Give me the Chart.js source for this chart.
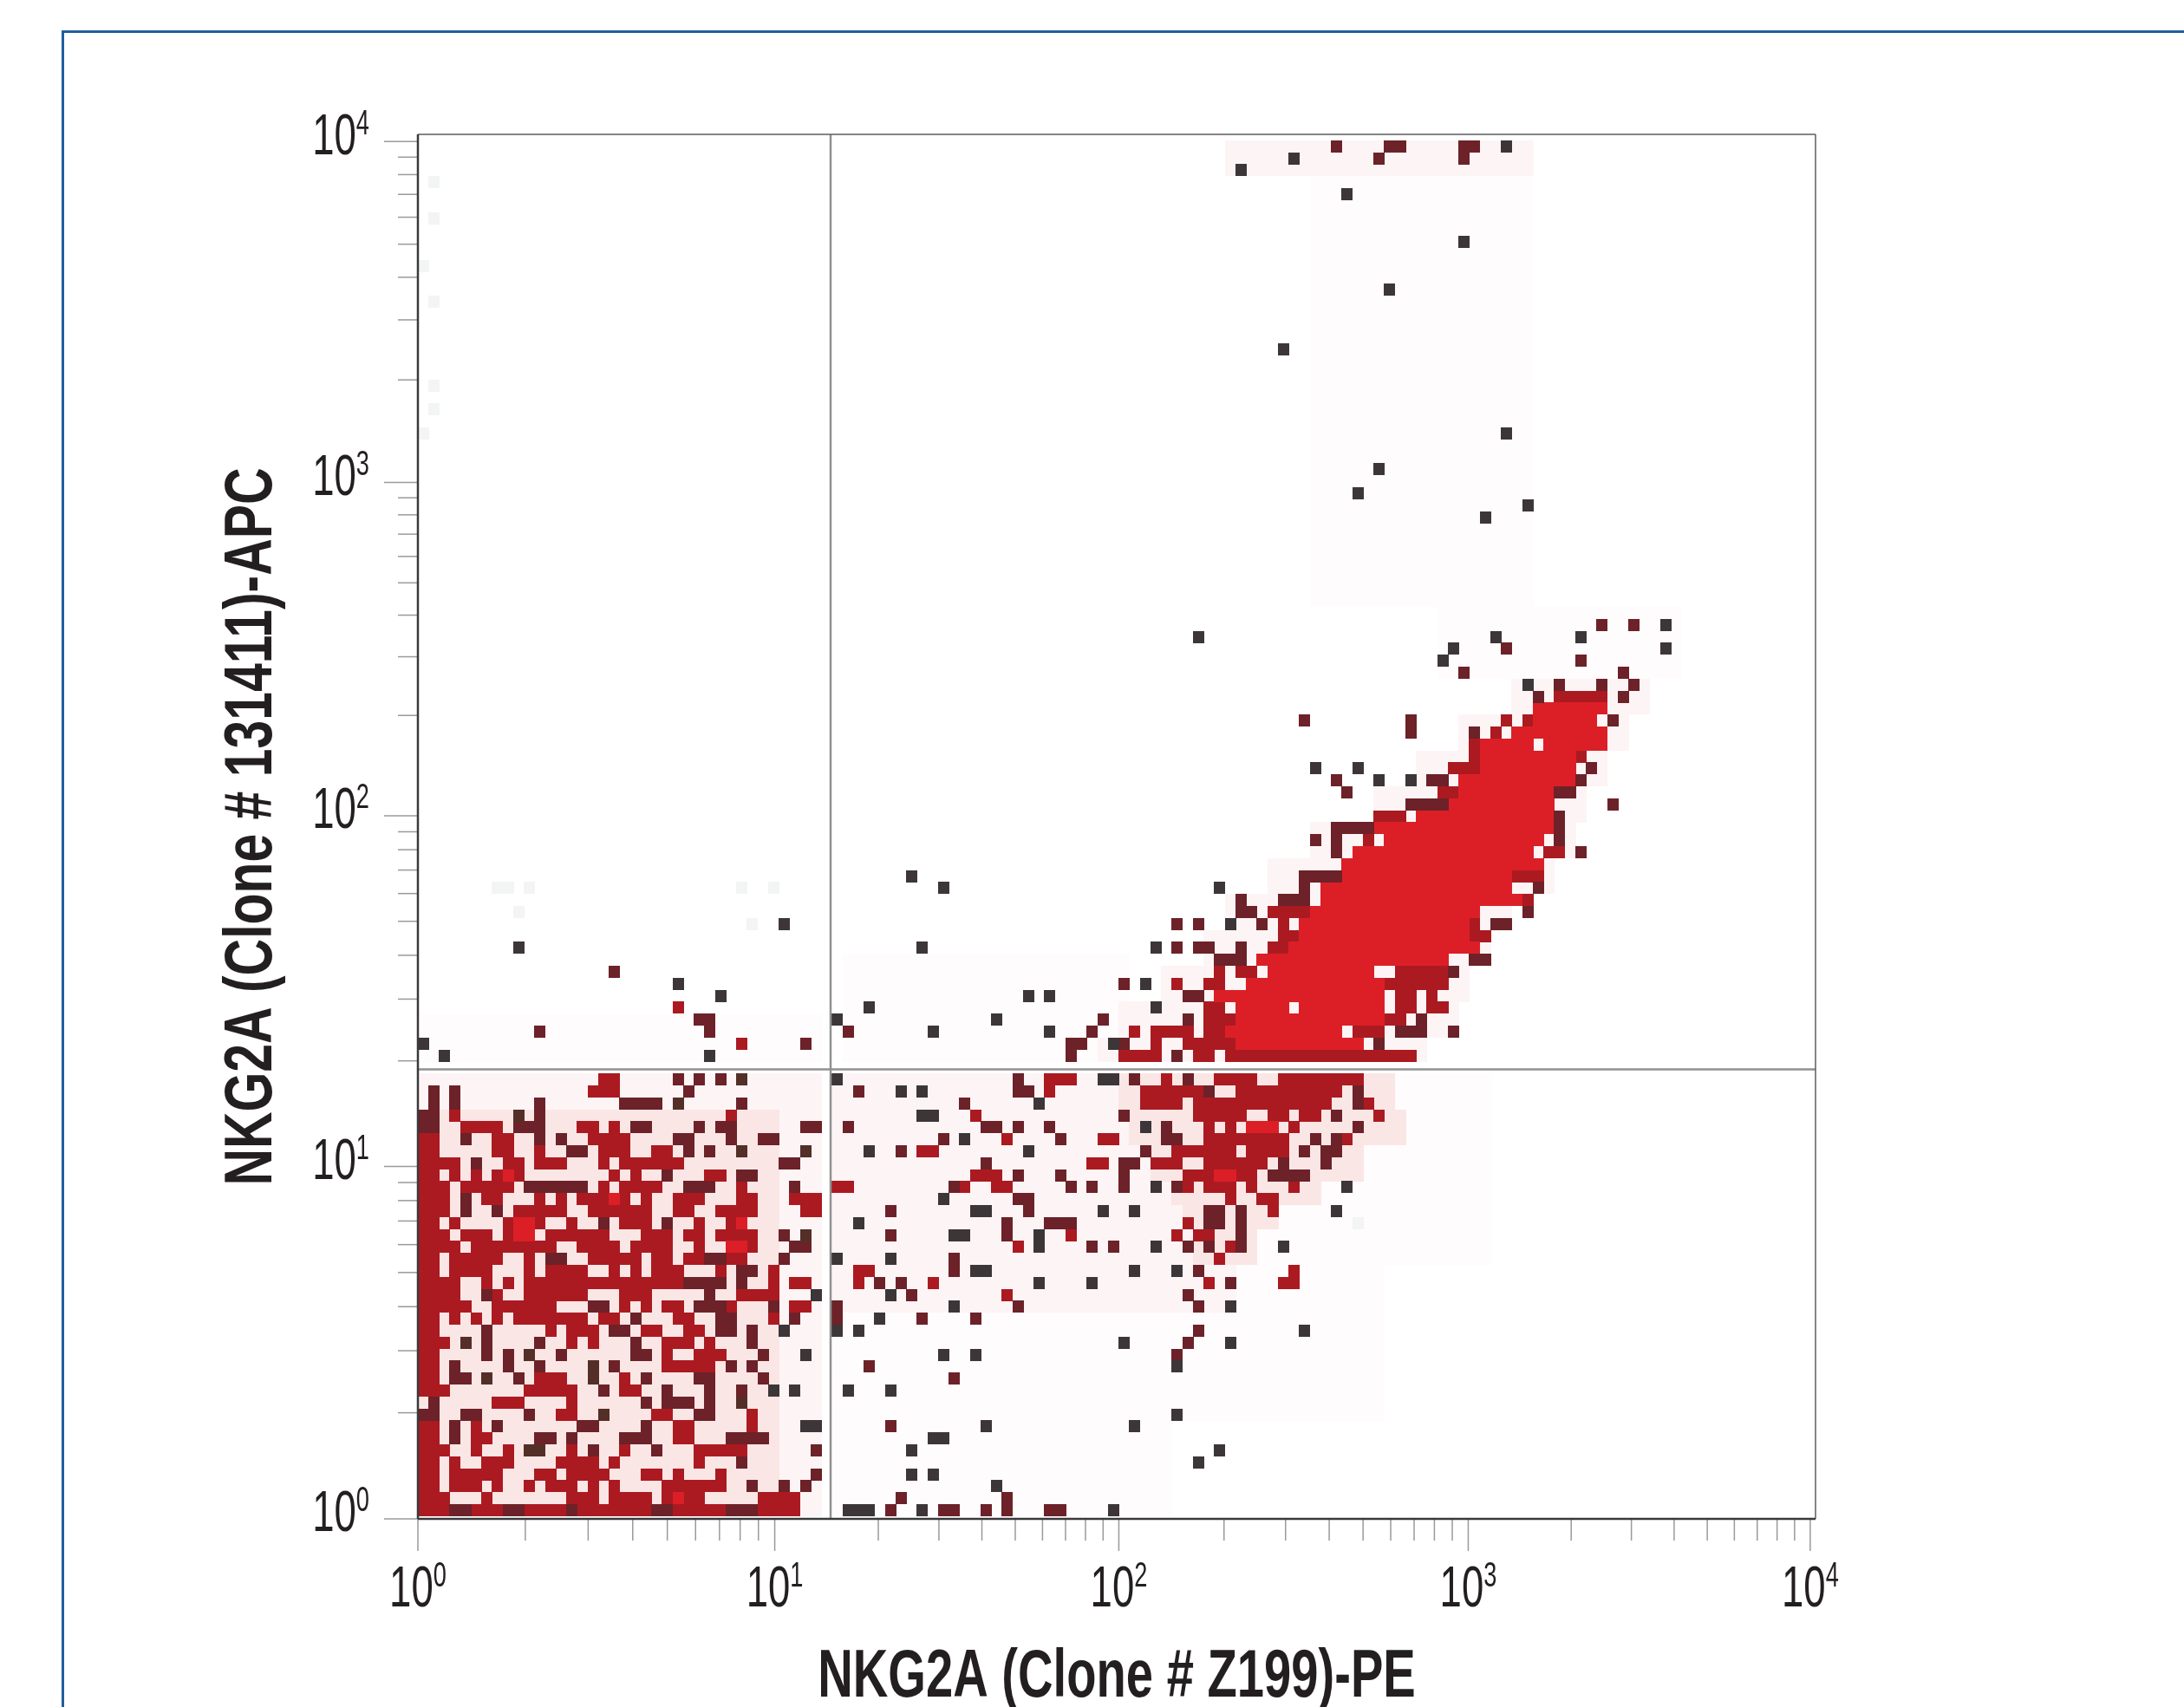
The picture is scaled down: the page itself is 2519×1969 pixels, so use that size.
<!DOCTYPE html>
<html lang="en">
<head>
  <meta charset="UTF-8" />
  <title>NKG2A flow plot</title>
  <script src="https://cdn.jsdelivr.net/npm/chart.js"></script>
  <style>
    html, body { margin: 0; background: #fff; overflow: hidden; }
    #page { position: relative; width: 2519px; height: 1969px; overflow: hidden; }
    #frame { position: absolute; left: 71px; top: 35px; width: 2600px; height: 2100px; border: 3px solid #1f5f9f; }
    canvas { position: absolute; left: 0; top: 0; }
  </style>
</head>
<body>
  <div id="page">
    <div id="frame"></div>
    <canvas id="plot" width="2519" height="1969"></canvas>
  </div>

  <script>
    // axes are in instrument channels: one channel = one cell of the density plot
    const xDecades = [0, 33.6, 66.0, 98.9, 131.1];
    const yDecades = [-0.22, 29.24, 58.55, 86.4, 114.9];
    const decadeLabels = ["10⁰", "10¹", "10²", "10³", "10⁴"];
    const xGate = 38.86;
    const yGate = 37.36;
    const xTitle = "NKG2A (Clone # Z199)-PE";
    const yTitle = "NKG2A (Clone # 131411)-APC";

    const levelColors = {
      f: "#fffcfd", a: "#fdf4f5", g: "#f3f4f4", p: "#fbe6e6",
      m: "#ab1a21", r: "#dc1f27", d: "#6c2228", n: "#532f28", k: "#3d3638"
    };
    const levelOrder = ["f", "a", "g", "p", "m", "r", "d", "n", "k"];

    // background haze: [col from, col to, row from, row to, level]
    const hazeBlocks = [
      [39, 70, 0, 16, "f"], [70, 90, 8, 20, "f"], [39, 76, 17, 36, "a"], [76, 100, 21, 36, "f"],
      [66, 91, 34, 36, "p"], [67, 92, 31, 33, "p"], [69, 88, 28, 30, "p"], [71, 84, 26, 27, "p"],
      [72, 80, 24, 25, "p"], [73, 78, 21, 23, "p"],
      [0, 37, 38, 41, "f"], [40, 66, 38, 46, "f"],
      [64, 94, 38, 39, "a"], [66, 97, 40, 42, "a"], [70, 98, 43, 45, "a"], [74, 100, 46, 48, "a"],
      [76, 102, 49, 51, "a"], [80, 106, 52, 54, "a"], [84, 108, 55, 57, "a"], [90, 109, 58, 60, "a"],
      [94, 111, 61, 63, "a"], [98, 113, 64, 66, "a"], [103, 115, 67, 69, "a"],
      [96, 118, 70, 75, "f"], [84, 104, 76, 111, "f"], [76, 104, 112, 114, "a"],
      [0, 37, 0, 33, "p"], [0, 37, 34, 36, "a"], [34, 37, 0, 36, "a"]
    ];

    // below the horizontal gate, left of the vertical gate (index = row from bottom)
    const lowerLeftRows = [
      "0-35m 3-4d 8-9d 14d 22-23d 29-31d",
      "0-2m 6m 14-16m 18-21m 23-25m 24r 26m 32-34m 35m",
      "0-1m 3-5m 7m 10m 12-14m 16m 18m 23-28m 31d 34d 36d",
      "0-1m 3-7m 11-12m 14-16m 17m 21-22m 24m 28m 37d",
      "0-1m 3m 6-8m 13-16m 18m 26m 30d",
      "0-2m 5m 8m 10-11n 14m 16d 19m 22d 26-30m 37d",
      "0-1m 3d 5-6m 11-12d 14d 19-21d 24-25m 29-32d",
      "0-1m 3d 5m 7d 15-16d 21d 24-25m 31m 36-37k",
      "0-1d 4-5d 10d 13-14m 17n 22-23m 26-27d 31m",
      "1d 7-9m 14m 21d 23-25d 27d 30n",
      "0-2m 10-14m 17d 19-20m 23d 27d 30d 33k 35k",
      "0-1m 3-4d 6n 9d 11-13m 16n 19m 21d 26-27d 32d",
      "0-1m 3d 8d 11d 16n 18d 23-26m 27m 29d 31d",
      "0-1m 6d 8d 10n 13d 20-21d 23m 26-28m 32d 36k",
      "0-2m 4n 6d 11d 14m 16m 20d 23-25m 27m 31d",
      "0-1m 6d 12m 14-16m 18-19d 21-22m 25-26m 28-29d 31d 34k",
      "0-1m 3m 5m 7m 9-15m 17-18m 20d 24-25m 28-29d 33m 35d",
      "0-4m 7-12m 16-17d 19m 21m 23-24m 26-28d 29m 33d 35-36m",
      "0-3m 6d 7m 10-15m 19-21m 27d 30-33m 37k",
      "0-3m 6m 8m 10-24m 25-28d 30d 33m 35-36m",
      "0-1m 3-6m 10m 12-15m 18m 20m 22-24m 28m 30-31d 33m",
      "0-1m 3-7m 10m 12-13d 16-20m 22-23m 25-26m 27-28d 29-30m 34d",
      "0-3m 5-12m 15-18m 20-23m 26m 29-31m 29-30r 35-36d",
      "0-2m 4-6m 8-10m 9-10r 12-17m 21-23m 25-26m 28m 29-31m 34d 36n",
      "0-1m 3m 8-11m 9-10r 14m 17d 19-21m 23d 26m 29-30m 30r",
      "0-2m 4d 7d 9-13m 16-21m 24-25m 28-31m 36-37m",
      "0-2m 4d 6-7m 11m 13m 15-19m 18r 21m 24-26m 30-31m 35-37m",
      "0-2m 4-8m 10-15d 17m 19-22m 25-27d 30m 35d",
      "0-1m 3m 5m 7-9m 8r 18m 20m 23d 27-28m 30-31d",
      "0-3m 5d 8-9m 11-13m 17m 19-24m 34-35d",
      "0-1m 7-8m 11m 14-15d 17-19m 22-23m 25d 27d 30n 36n",
      "0-1m 4d 7-8m 11d 13d 16-19m 24-25d 29d 32-33d",
      "0-1d 4-7m 9-11d 15-16m 18m 20-21d 26d 28-29d 36-37d",
      "0-1d 3m 9n 11d 29m",
      "1d 3d 11d 19-22d 24n 30d",
      "1d 3d 16-18m 25d",
      "17-18m 24d 26d 28d 30n"
    ];

    // below the horizontal gate, right of the vertical gate
    const lowerRightRows = [
      "40-42k 44d 47k 49-50d 53d 55d 59-60d 65k",
      "45d 55d",
      "54k",
      "46k 48k",
      "73k",
      "46k 75k",
      "48-49k",
      "44d 53k 67k",
      "71k",
      "",
      "40k 44k",
      "50d",
      "42d 71k",
      "49k 52k 71d",
      "66k 72d 76k",
      "39k 41k 73d 83k",
      "39d 43k 47d 52d",
      "39d 50k 56d 73d 76k",
      "44k 46d 55m 72d",
      "41m 43d 45d 48m 58k 63k 74m 76d 81-82m",
      "41-42m 50d 52-53k 67k 71k 73d 82m",
      "39k 44k 50d 75m",
      "56m 58k 63d 65d 69k 72d 74d 76m 77d 81k",
      "44d 50-51k 55d 58k 61m 71m 73-74m 77d",
      "41k 55d 59-61d 72m 74-75d 77d 88g",
      "44d 52-53k 57d 64k 67k 74-75d 77d 80m 86k",
      "49k 56-57d 76m 79-80m",
      "39-40m 50d 51m 54-55m 61d 63d 66d 69k 71d 72m 74-76m 78m 82m 87k",
      "52-54m 56d 60d 66d 72-78m 75-76r 80-83d",
      "53d 63-64m 66-67d 69-71m 74-79m 81d 85d",
      "42k 45d 47-48m 57k 68d 71-76m 78-81m 83d 85-86d",
      "49d 51k 55m 60d 64-65m 70-71d 74-81m 84d 86d 87m",
      "40d 53-54d 56d 59d 68k 70d 74m 76m 78-80r 82m 88d",
      "47-48k 52m 66d 73-77m 80-81m 83-84m 86d 90m",
      "51d 58k 68-71m 73-85m 88d 89m",
      "41d 45k 47k 56-57d 59m 68-73m 74d 77-86m 88d",
      "39k 56d 59-61m 64-65k 67d 70m 72d 75-78m 81-88m"
    ];

    // above the horizontal gate, index 0 = row 38
    const upperRows = [
      "2k 27k 61d 66-69m 71d 73-74m 76-93m",
      "0k 30m 36d 61-62d 65k 66d 69m 72-76m 77-88r 90d",
      "11d 27d 40d 48k 59k 63d 67m 69-72m 74-75m 76-86r 88-90m 92-94d 97d",
      "26-27d 39k 54k 64d 72d 74-76m 77-90r 91-92m 94d",
      "24m 42k 69k 74-75m 77-81r 83-90r 92-93m 95-96m",
      "28k 57k 59k 72-73d 75-90r 92-93m 95m",
      "24k 66d 68k 71m 74-75m 78-90r 91-96m",
      "18d 75m 77-78m 80-89r 92-96m 97d",
      "75-77d 79-96r 99-100d",
      "9k 47k 69k 71d 73-74d 77d 80-81m 82-99r",
      "81-82m 83-98r 99-100m",
      "34k 71d 73d 76k 79d 81m 83-98r 99m 101-102d",
      "77-78d 80-83m 84-99r 104d",
      "77d 81-83d 85-103r 104m",
      "30g 33g 49k 75k 83d 85-102r 105d",
      "46k 83-86d 87-102r 103-105m",
      "87-105r",
      "86d 88-104r 106-107m 109d",
      "84d 86d 89m 91-105r 107d",
      "86-89d 90-106r 107d",
      "90-92m 94-106r 107d",
      "93-96d 97-106r 112d",
      "87d 96-97m 98-106r 107-108d",
      "86d 90k 93k 95-96d 98-108r 109d",
      "84k 88k 97-99m 100-108r 110d",
      "99m 100-108r 109m",
      "99m 100-104r 106-111r",
      "93d 99d 101m 103-111r",
      "83d 93d 102m 104m 105-110r 112d",
      "105-111r",
      "105d 107-110m 111m 113d",
      "104k 107d 111d 114d",
      "98d 113d",
      "96k 109d",
      "97k 102d 117k",
      "73k 101k 109k",
      "111d 114d 117k"
    ];

    // isolated events high up the plot: [col, row, level]
    const topEvents = [
      [77, 112, "k"], [82, 113, "k"], [86, 114, "d"], [90, 113, "d"], [91, 114, "d"], [92, 114, "d"],
      [98, 113, "d"], [98, 114, "d"], [99, 114, "d"], [102, 114, "k"], [87, 110, "k"], [98, 106, "k"],
      [91, 102, "k"], [81, 97, "k"], [102, 90, "k"], [90, 87, "k"], [88, 85, "k"], [100, 83, "k"],
      [104, 84, "k"]
    ];
    // pale single cells along the left edge: [col, row]
    const faintEdge = [
      [1, 111], [1, 108], [1, 101], [1, 94], [1, 92], [0, 104], [0, 90],
      [9, 50], [10, 52], [7, 52], [8, 52], [31, 49]
    ];

    // collect the cells per level, later entries overwrite earlier ones
    const cells = new Map();
    function setCell(col, row, level) { cells.set(col + "," + row, level); }
    function readRows(rows, firstRow) {
      rows.forEach((text, i) => {
        for (const m of text.matchAll(/(\d+)(?:-(\d+))?([a-z])/g)) {
          const from = +m[1], to = m[2] ? +m[2] : from;
          for (let c = from; c <= to; c++) setCell(c, firstRow + i, m[3]);
        }
      });
    }
    hazeBlocks.forEach(([c0, c1, r0, r1, level]) => {
      for (let r = r0; r <= r1; r++) for (let c = c0; c <= c1; c++) setCell(c, r, level);
    });
    faintEdge.forEach(([c, r]) => setCell(c, r, "g"));
    readRows(lowerLeftRows, 0);
    readRows(lowerRightRows, 0);
    readRows(upperRows, 38);
    topEvents.forEach(([c, r, level]) => setCell(c, r, level));

    const cellData = {};
    levelOrder.forEach(l => cellData[l] = []);
    cells.forEach((level, key) => {
      const [c, r] = key.split(",").map(Number);
      cellData[level].push({ x: c + 0.5, y: r + 0.5 });
    });

    // a cell is taller than wide, so the point style is a small canvas
    function cellImage(color) {
      const img = document.createElement("canvas");
      img.width = 13;
      img.height = 14;
      const g = img.getContext("2d");
      g.fillStyle = color;
      g.fillRect(0, 0, 13, 14);
      return img;
    }

    const minorTicks = decades => {
      const out = [];
      for (let d = 0; d < decades.length - 1; d++) {
        for (let m = 2; m <= 9; m++) {
          out.push(decades[d] + Math.log10(m) * (decades[d + 1] - decades[d]));
        }
      }
      return out;
    };

    // no condensed font is installed, so text is squeezed along its own direction
    const textSqueeze = { [xTitle]: 0.72, [yTitle]: 0.755 };
    const fontFamily = "'Liberation Sans'";
    const narrowText = {
      id: "narrowText",
      beforeInit(chart) {
        const ctx = chart.ctx;
        const fill = ctx.fillText.bind(ctx);
        ctx.fillText = (text, x, y) => {
          const power = decadeLabels.indexOf(text);
          ctx.save();
          ctx.translate(x, y);
          ctx.scale(textSqueeze[text] || 0.68, 1);
          if (power < 0) {
            fill(text, 0, 0);
          } else {
            // "10" plus a raised exponent, the label centred or right aligned as a whole
            const exponentFont = "40px " + fontFamily;
            const baseWidth = ctx.measureText("10").width;
            const top = -ctx.measureText("10").actualBoundingBoxAscent;
            const base = ctx.font;
            ctx.font = exponentFont;
            const expWidth = ctx.measureText(String(power)).width;
            ctx.font = base;
            const total = baseWidth + expWidth;
            const start = ctx.textAlign === "right" ? -total : ctx.textAlign === "center" ? -total / 2 : 0;
            ctx.textAlign = "left";
            fill("10", start, 0);
            ctx.font = exponentFont;
            ctx.textBaseline = "alphabetic";
            fill(String(power), start + baseWidth, top + 24);
          }
          ctx.restore();
        };
      }
    };

    // outward tick marks of two lengths and the plot frame
    const flowAxes = {
      id: "flowAxes",
      afterDraw(chart) {
        const { ctx, chartArea: a, scales: { x, y } } = chart;
        ctx.save();
        ctx.strokeStyle = "#9a9a9c";
        ctx.lineWidth = 1.5;
        const mark = (px, py, qx, qy) => {
          ctx.beginPath(); ctx.moveTo(px, py); ctx.lineTo(qx, qy); ctx.stroke();
        };
        xDecades.forEach(v => mark(x.getPixelForValue(v), a.bottom, x.getPixelForValue(v), a.bottom + 37));
        minorTicks(xDecades).forEach(v => mark(x.getPixelForValue(v), a.bottom, x.getPixelForValue(v), a.bottom + 25));
        yDecades.forEach(v => mark(a.left, y.getPixelForValue(v), a.left - 39, y.getPixelForValue(v)));
        minorTicks(yDecades).forEach(v => mark(a.left, y.getPixelForValue(v), a.left - 23, y.getPixelForValue(v)));

        ctx.strokeStyle = "#5c5c5e";
        ctx.lineWidth = 1.5;
        mark(a.left, a.top, a.right, a.top);
        mark(a.right, a.top, a.right, a.bottom);
        ctx.strokeStyle = "#3a3a3c";
        ctx.lineWidth = 2.5;
        mark(a.left, a.top, a.left, a.bottom);
        mark(a.left, a.bottom, a.right, a.bottom);
        ctx.restore();
      }
    };

    const labelFont = { family: fontFamily, size: 67 };
    const titleFont = { family: fontFamily, size: 78, weight: "bold", lineHeight: 1 };

    const cellDatasets = levelOrder.map(l => ({
      type: "scatter",
      data: cellData[l],
      pointStyle: cellImage(levelColors[l]),
      pointRadius: 7,
      pointHoverRadius: 7,
      order: 10 - levelOrder.indexOf(l)
    }));
    const gateStyle = { type: "scatter", showLine: true, borderColor: "#909193", borderWidth: 2.5, pointRadius: 0, order: 0 };

    new Chart(document.getElementById("plot"), {
      type: "scatter",
      data: {
        datasets: [
          ...cellDatasets,
          { ...gateStyle, data: [{ x: xGate, y: -0.22 }, { x: xGate, y: 115.5 }] },
          { ...gateStyle, data: [{ x: 0, y: yGate }, { x: 131.6, y: yGate }] }
        ]
      },
      options: {
        responsive: false,
        animation: false,
        layout: { padding: { top: 155, right: 425, left: 0, bottom: 0 } },
        plugins: { legend: { display: false }, tooltip: { enabled: false } },
        scales: {
          x: {
            type: "linear", min: 0, max: 131.6,
            afterBuildTicks: s => { s.ticks = xDecades.map(v => ({ value: v })); },
            afterFit: s => { s.height = 217; },
            grid: { display: false, drawTicks: false },
            border: { display: false },
            ticks: {
              autoSkip: false, maxRotation: 0, padding: 42, color: "#231f20", font: labelFont,
              callback: v => decadeLabels[xDecades.indexOf(v)]
            },
            title: { display: true, text: xTitle, color: "#231f20", font: titleFont, padding: { top: 0, bottom: -5 } }
          },
          y: {
            type: "linear", min: -0.22, max: 115.5,
            afterBuildTicks: s => { s.ticks = yDecades.map(v => ({ value: v })); },
            afterFit: s => { s.width = 482; },
            grid: { display: false, drawTicks: false },
            border: { display: false },
            ticks: {
              autoSkip: false, padding: 56, labelOffset: -4, color: "#231f20", font: labelFont,
              callback: v => decadeLabels[yDecades.indexOf(v)]
            },
            title: { display: true, text: yTitle, color: "#231f20", font: titleFont, padding: { top: 252, bottom: 0 } }
          }
        }
      },
      plugins: [narrowText, flowAxes]
    });
  </script>
</body>
</html>
